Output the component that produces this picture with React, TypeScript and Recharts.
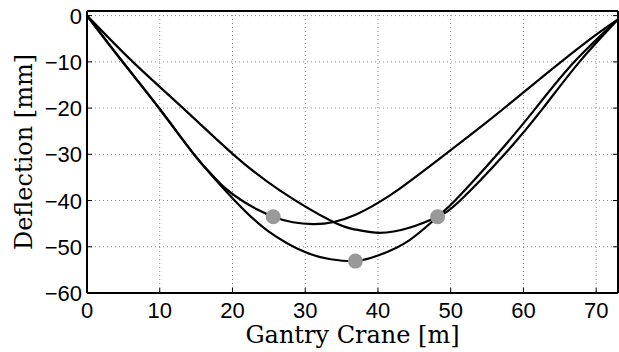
import { ComposedChart, Line, Scatter, XAxis, YAxis, CartesianGrid, Label } from 'recharts';

const xTicks = [0, 10, 20, 30, 40, 50, 60, 70];
const yTicks = [-60, -50, -40, -30, -20, -10, 0];

// shallow-minimum curve (marker on its left flank)
const xA = [0, 5, 10, 14.7, 16.8, 19, 21.5, 23.5, 25.6, 28.3, 31.1, 33.8, 37, 40, 43, 47, 50, 55, 60, 65, 70, 73];
const yA = [0, -10.2, -20.2, -30, -33.8, -37.3, -40.2, -42, -43.5, -44.7, -45.1, -44.7, -43, -40.5, -37.4, -32.7, -29.1, -23, -16.6, -10.2, -4.1, -0.8];

// deepest curve (marker at its minimum)
const xB = [0, 5, 10, 14.7, 20.3, 24.9, 29.9, 33.5, 36.9, 40, 44.3, 48.2, 50.6, 56.4, 61.7, 67, 73];
const yB = [0, -10.2, -20.2, -30, -40, -46.6, -51.1, -52.7, -53.1, -51.9, -48.6, -43.5, -40, -30, -20, -10, -0.8];

// curve starting with the gentlest slope (marker on its right flank)
const xC = [0, 6.3, 13.2, 20.1, 26.5, 33.8, 37, 40.2, 44.3, 48.2, 51.3, 57.4, 62.7, 67.7, 73];
const yC = [0, -10, -20, -30, -37.8, -44.6, -46.3, -47, -45.9, -43.5, -40, -30, -20, -10, -0.8];

const markX = [25.6, 48.2, 36.9];
const markY = [-43.5, -43.5, -53.1];

const pts = (xs: number[], ys: number[]) => xs.map((x, i) => ({ x, y: ys[i] }));

const fmt = (v: number) => (v < 0 ? '\u2212' + Math.abs(v) : String(v));
const tickFont = { fontFamily: '"Liberation Sans", Arial, sans-serif', fontSize: 22, fill: '#000' };
const labelFont = { fontFamily: '"DejaVu Serif", serif', fontSize: 24, fill: '#000' };

function BottomTick({ x, y, payload }: any) {
  return (
    <g>
      <line x1={x} x2={x} y1={y} y2={y - 5} stroke="#000" />
      <text x={x} y={y + 25} textAnchor="middle" {...tickFont}>{fmt(payload.value)}</text>
    </g>
  );
}

function LeftTick({ x, y, payload }: any) {
  return (
    <g>
      <line x1={x} x2={x + 5} y1={y} y2={y} stroke="#000" />
      <text x={x - 5} y={y + 8} textAnchor="end" {...tickFont}>{fmt(payload.value)}</text>
    </g>
  );
}

function TopTick({ x, y }: any) {
  return <line x1={x} x2={x} y1={y} y2={y + 5} stroke="#000" />;
}

function RightTick({ x, y }: any) {
  return <line x1={x} x2={x - 5} y1={y} y2={y} stroke="#000" />;
}

function Dot({ cx, cy }: any) {
  return <circle cx={cx} cy={cy} r={7.5} fill="#999" />;
}

export default function App() {
  return (
    <>
      <style>{'body{margin:0}'}</style>
      <ComposedChart width={619} height={352} margin={{ top: 10, right: 0, left: 86, bottom: 58 }}>
        <CartesianGrid strokeDasharray="1 3" stroke="#888" />
        <XAxis
          dataKey="x"
          type="number"
          domain={[0, 73]}
          ticks={xTicks}
          allowDataOverflow
          height={1}
          tickSize={0}
          tickMargin={0}
          tick={(p: any) => <BottomTick {...p} />}
          axisLine={{ stroke: '#000', strokeWidth: 2 }}
        >
          <Label
            content={({ viewBox }: any) => (
              <text x={viewBox.x + viewBox.width / 2} y={343} textAnchor="middle" {...labelFont}>
                Gantry Crane [m]
              </text>
            )}
          />
        </XAxis>
        <XAxis
          xAxisId="top"
          orientation="top"
          type="number"
          domain={[0, 73]}
          ticks={xTicks}
          allowDataOverflow
          height={1}
          tickSize={0}
          tickMargin={0}
          tick={(p: any) => <TopTick {...p} />}
          axisLine={{ stroke: '#000', strokeWidth: 2 }}
        />
        <YAxis
          dataKey="y"
          type="number"
          domain={[-60, 1]}
          ticks={yTicks}
          allowDataOverflow
          width={1}
          tickSize={0}
          tickMargin={0}
          tick={(p: any) => <LeftTick {...p} />}
          axisLine={{ stroke: '#000', strokeWidth: 2 }}
        >
          <Label
            content={({ viewBox }: any) => {
              const cy = viewBox.y + viewBox.height / 2;
              return (
                <text x={32} y={cy} transform={`rotate(-90 32 ${cy})`} textAnchor="middle" {...labelFont}>
                  Deflection [mm]
                </text>
              );
            }}
          />
        </YAxis>
        <YAxis
          yAxisId="right"
          orientation="right"
          type="number"
          domain={[-60, 1]}
          ticks={yTicks}
          allowDataOverflow
          width={1}
          tickSize={0}
          tickMargin={0}
          tick={(p: any) => <RightTick {...p} />}
          axisLine={{ stroke: '#000', strokeWidth: 2 }}
        />
        <Line data={pts(xA, yA)} dataKey="y" type="natural" stroke="#000" strokeWidth={2.2} dot={false} activeDot={false} isAnimationActive={false} />
        <Line data={pts(xB, yB)} dataKey="y" type="natural" stroke="#000" strokeWidth={2.2} dot={false} activeDot={false} isAnimationActive={false} />
        <Line data={pts(xC, yC)} dataKey="y" type="natural" stroke="#000" strokeWidth={2.2} dot={false} activeDot={false} isAnimationActive={false} />
        <Scatter data={pts(markX, markY)} dataKey="y" shape={(p: any) => <Dot {...p} />} isAnimationActive={false} />
      </ComposedChart>
    </>
  );
}
